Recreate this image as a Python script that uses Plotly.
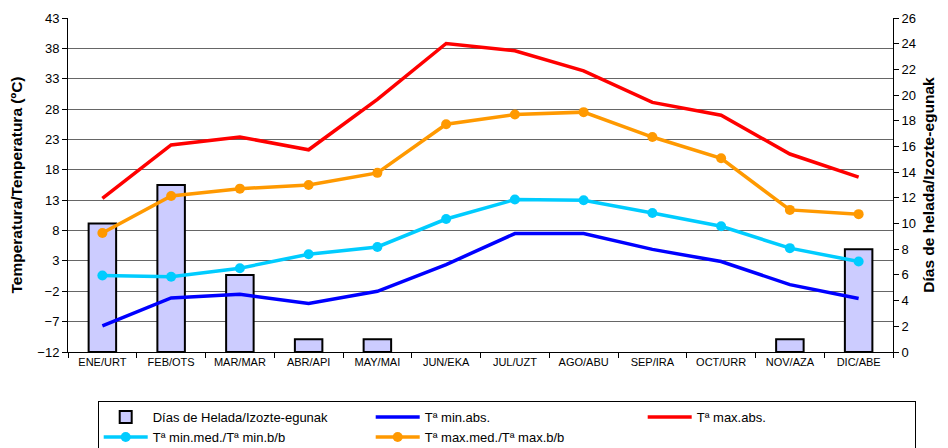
import plotly.graph_objects as go

months = ["ENE/URT", "FEB/OTS", "MAR/MAR", "ABR/API", "MAY/MAI", "JUN/EKA",
          "JUL/UZT", "AGO/ABU", "SEP/IRA", "OCT/URR", "NOV/AZA", "DIC/ABE"]
frost_days = [10, 13, 6, 1, 1, 0, 0, 0, 0, 0, 1, 8]
tmin_abs = [-7.7, -3.1, -2.5, -4.0, -2.0, 2.4, 7.5, 7.5, 4.9, 2.9, -0.9, -3.2]
tmax_abs = [13.3, 22.1, 23.4, 21.3, 29.6, 38.8, 37.6, 34.3, 29.1, 27.0, 20.6, 16.8]
tmin_med = [0.6, 0.4, 1.8, 4.1, 5.3, 9.9, 13.1, 13.0, 10.9, 8.7, 5.1, 2.9]
tmax_med = [7.6, 13.7, 14.9, 15.5, 17.5, 25.5, 27.1, 27.5, 23.4, 19.9, 11.4, 10.7]

left_ticks = list(range(-12, 44, 5))
right_ticks = list(range(0, 27, 2))

FONT = "Liberation Sans, Arial, sans-serif"

# months without frost get no bar (no outline drawn at zero)
frost_bars = [v if v else None for v in frost_days]

fig = go.Figure()
fig.add_trace(go.Bar(
    x=months, y=frost_bars, name="Días de Helada/Izozte-egunak",
    marker=dict(color="#ccccff", line=dict(color="black", width=2)),
    yaxis="y",
))
fig.add_trace(go.Scatter(
    x=months, y=tmin_abs, name="Tª min.abs.", mode="lines",
    line=dict(color="#0000ff", width=3.5), yaxis="y2",
))
fig.add_trace(go.Scatter(
    x=months, y=tmax_abs, name="Tª max.abs.", mode="lines",
    line=dict(color="#ff0000", width=3.5), yaxis="y2",
))
fig.add_trace(go.Scatter(
    x=months, y=tmin_med, name="Tª min.med./Tª min.b/b", mode="lines+markers",
    line=dict(color="#00ccff", width=3.5), marker=dict(size=10, color="#00ccff"),
    yaxis="y2",
))
fig.add_trace(go.Scatter(
    x=months, y=tmax_med, name="Tª max.med./Tª max.b/b", mode="lines+markers",
    line=dict(color="#ff9900", width=3.5), marker=dict(size=10, color="#ff9900"),
    yaxis="y2",
))

fig.update_layout(
    width=948, height=448,
    margin=dict(l=68, r=55, t=18, b=96, autoexpand=False),
    paper_bgcolor="white", plot_bgcolor="white",
    font=dict(family=FONT, color="black"),
    bargap=0.6,
    showlegend=True,
    legend=dict(
        orientation="h", x=0.036, y=-0.147, xanchor="left", yanchor="top",
        bordercolor="black", borderwidth=1, font=dict(size=13, family=FONT),
        entrywidth=213, entrywidthmode="pixels", itemwidth=44,
        traceorder="normal",
    ),
    xaxis=dict(
        type="category", range=[-0.5, 11.5], showline=True, linecolor="black", linewidth=1,
        ticks="outside", tickson="boundaries", ticklen=5, tickcolor="black",
        tickfont=dict(size=11), showgrid=False, automargin=False,
    ),
    yaxis=dict(
        side="right", range=[0, 26], tickvals=right_ticks,
        showline=True, linecolor="black", linewidth=1,
        ticks="outside", ticklen=5, tickcolor="black",
        tickfont=dict(size=13), showgrid=False, zeroline=False, automargin=False,
        title=dict(text="<b>Días de helada/Izozte-egunak</b>", font=dict(size=15.5), standoff=8),
    ),
    yaxis2=dict(
        overlaying="y", side="left", range=[-12, 43], tickvals=left_ticks,
        showline=True, linecolor="black", linewidth=1,
        ticks="outside", ticklen=5, tickcolor="black",
        tickfont=dict(size=13), showgrid=True, gridcolor="#666666", gridwidth=1,
        zeroline=False, automargin=False,
        title=dict(text="<b>Temperatura/Tenperatura (ºC)</b>", font=dict(size=15.5), standoff=10),
    ),
)

fig.write_html("out.html", config={"displayModeBar": False},
               post_script="document.body.style.margin='0';")
